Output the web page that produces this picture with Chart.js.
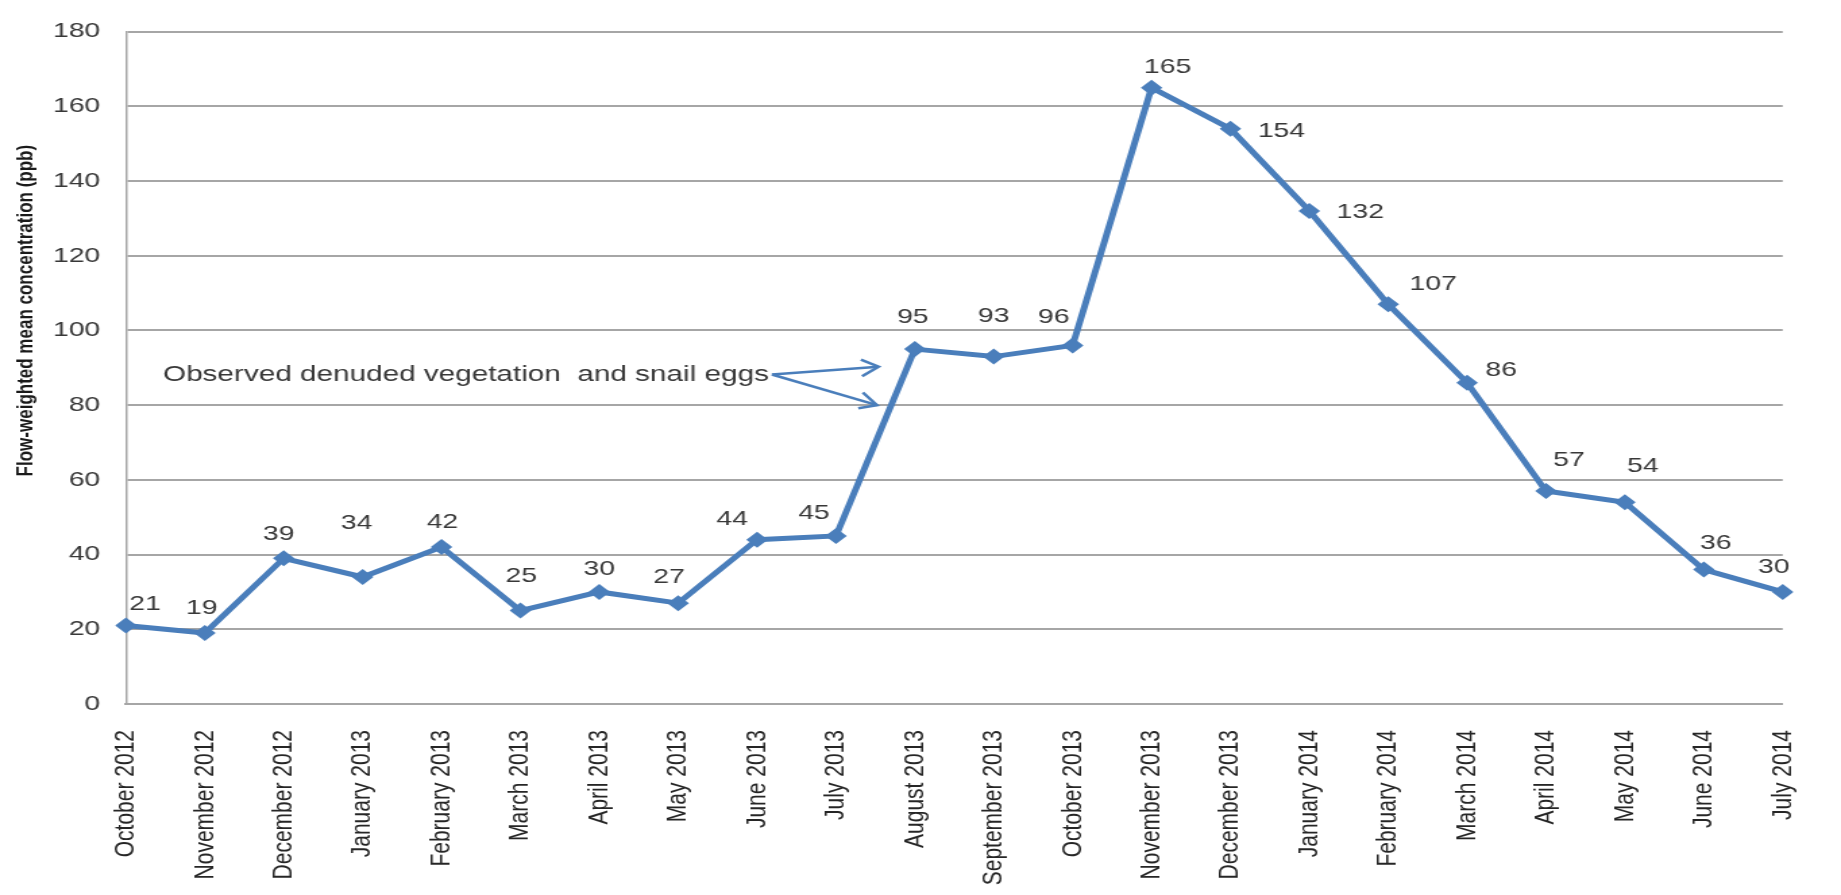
<!DOCTYPE html>
<html>
<head>
<meta charset="utf-8">
<title>Flow-weighted mean concentration</title>
<script src="https://cdn.jsdelivr.net/npm/chart.js@4.4.1/dist/chart.umd.min.js"></script>
<style>
  html, body { margin: 0; padding: 0; background: #fff; overflow: hidden; }
  /* the original figure is stretched sideways, so the chart is drawn narrow and widened */
  #wrap { width: 1364px; height: 895px; transform: scaleX(1.3497); transform-origin: 0 0; }
</style>
</head>
<body>
<div id="wrap"><canvas id="myChart"></canvas></div>
<script>
const months = ["October 2012", "November 2012", "December 2012", "January 2013", "February 2013", "March 2013",
  "April 2013", "May 2013", "June 2013", "July 2013", "August 2013", "September 2013", "October 2013",
  "November 2013", "December 2013", "January 2014", "February 2014", "March 2014", "April 2014",
  "May 2014", "June 2014", "July 2014"];
const concentration = [21, 19, 39, 34, 42, 25, 30, 27, 44, 45, 95, 93, 96, 165, 154, 132, 107, 86, 57, 54, 36, 30];
const yTicks = [0, 20, 40, 60, 80, 100, 120, 140, 160, 180];
const yTitle = "Flow-weighted mean concentration (ppb)";

// note and its two arrows, in chart values (category index, ppb)
const noteText = "Observed denuded vegetation  and snail eggs";
const noteAt = [0.47, 88.2];
const noteTips = [[9.54, 90.3], [9.52, 80]];

// where each value label sits from its point (screen px)
const labelOffsets = [[19, -21], [-3, -25], [-5, -24], [-6, -54], [1, -25], [1, -34], [0, -23], [-9, -26],
  [-25, -20], [-22, -23], [-2, -32], [0, -40], [-19, -28], [16, -20], [51, 2], [51, 1], [45, -20],
  [34, -13], [23, -31], [18, -36], [12, -26], [-9, -25]];

const STRETCH = 1841 / 1364;
const FONT = "'Liberation Sans', Arial, sans-serif";
const BLUE = '#4a7ebb';
const GRID = '#a6a6a6';

const extras = {
  id: 'extras',
  afterDatasetsDraw(chart) {
    const ctx = chart.ctx;
    const xs = chart.scales.x, ys = chart.scales.y;
    ctx.save();

    // value labels
    ctx.font = '21px ' + FONT;
    ctx.fillStyle = '#383838';
    ctx.textAlign = 'center';
    ctx.textBaseline = 'middle';
    chart.getDatasetMeta(0).data.forEach((pt, i) => {
      const off = labelOffsets[i];
      ctx.fillText(String(concentration[i]), pt.x + off[0] / STRETCH, pt.y + off[1]);
    });

    // note with arrows
    const tx = xs.getPixelForValue(noteAt[0]), ty = ys.getPixelForValue(noteAt[1]);
    ctx.font = '22px ' + FONT;
    ctx.textAlign = 'left';
    ctx.fillText(noteText, tx, ty);
    const sx = tx + ctx.measureText(noteText).width + 3 / STRETCH;
    ctx.strokeStyle = BLUE;
    ctx.lineWidth = 2.5;
    noteTips.forEach(tip => {
      const ex = xs.getPixelForValue(tip[0]), ey = ys.getPixelForValue(tip[1]);
      ctx.beginPath();
      ctx.moveTo(sx, ty);
      ctx.lineTo(ex, ey);
      ctx.stroke();
      const ang = Math.atan2(ey - ty, (ex - sx) * STRETCH);
      ctx.beginPath();
      [0.45, -0.45].forEach((a, k) => {
        const hx = ex - 19 * Math.cos(ang + a) / STRETCH;
        const hy = ey - 19 * Math.sin(ang + a);
        if (k === 0) { ctx.moveTo(hx, hy); ctx.lineTo(ex, ey); } else { ctx.lineTo(hx, hy); }
      });
      ctx.stroke();
    });

    // y axis title
    const ca = chart.chartArea;
    ctx.translate(19, ca.top + 0.415 * (ca.bottom - ca.top));
    ctx.rotate(-Math.PI / 2);
    ctx.font = 'bold 17px ' + FONT;
    ctx.fillStyle = '#1a1a1a';
    ctx.textAlign = 'center';
    ctx.fillText(yTitle, 0, 0);
    ctx.restore();
  }
};

const ctx = document.getElementById('myChart').getContext('2d');
const myChart = new Chart(ctx, {
  type: 'line',
  data: {
    labels: months,
    datasets: [{
      data: concentration,
      borderColor: BLUE,
      backgroundColor: BLUE,
      borderWidth: 5,
      pointStyle: 'rectRot',
      pointRadius: 8,
      pointBorderWidth: 0,
      tension: 0
    }]
  },
  options: {
    responsive: true,
    maintainAspectRatio: false,
    animation: false,
    layout: { padding: { top: 18, right: 12, bottom: 0, left: 0 } },
    plugins: { legend: { display: false }, tooltip: { enabled: false } },
    scales: {
      x: {
        offset: false,
        grid: { display: false },
        border: { color: GRID, width: 2 },
        ticks: {
          autoSkip: false, maxRotation: 90, minRotation: 90, padding: 18,
          color: '#262626', font: { family: FONT, size: 21 }
        },
        afterFit: s => { s.height = 191; }
      },
      y: {
        min: yTicks[0],
        max: yTicks[yTicks.length - 1],
        grid: { color: GRID, lineWidth: 2, drawTicks: false },
        border: { color: GRID, width: 1.5 },
        ticks: {
          stepSize: yTicks[1] - yTicks[0], padding: 19,
          color: '#383838', font: { family: FONT, size: 21 }
        },
        afterFit: s => { s.width = 93.3; }
      }
    }
  },
  plugins: [extras]
});
</script>
</body>
</html>
